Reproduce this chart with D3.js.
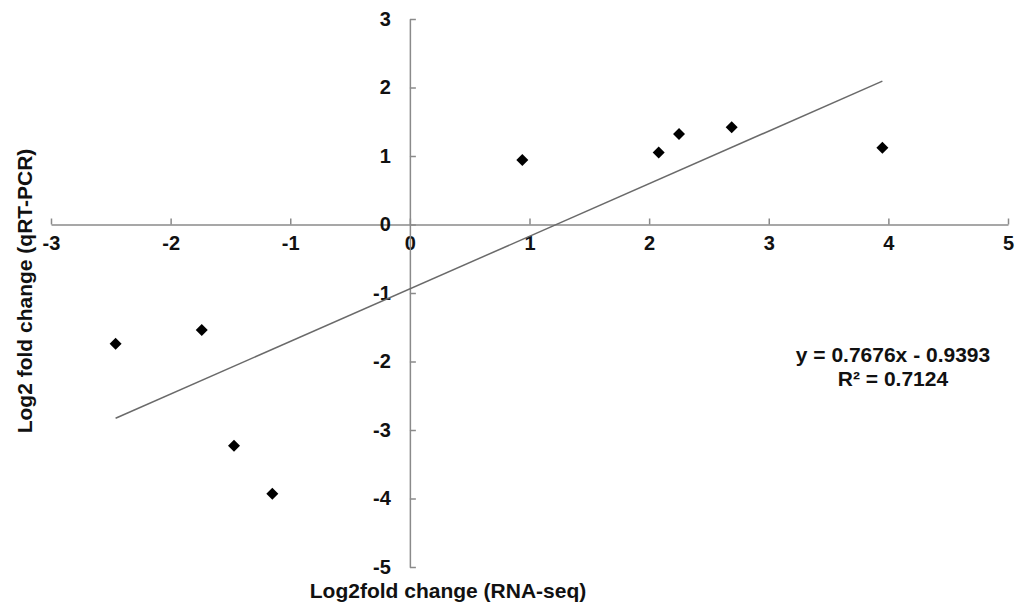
<!DOCTYPE html>
<html>
<head>
<meta charset="utf-8">
<script src="https://cdn.jsdelivr.net/npm/d3@7"></script>
<style>
  body { margin: 0; background: #fff; }
  text { font-family: "Liberation Sans", Arial, sans-serif; font-weight: bold; fill: #111; }
</style>
</head>
<body>
<svg id="chart" width="1019" height="612"></svg>
<script>
const rnaSeq = [-2.46, -1.74, -1.47, -1.15, 0.94, 2.08, 2.25, 2.69, 3.95];
const qPcr = [-1.74, -1.54, -3.23, -3.93, 0.94, 1.05, 1.32, 1.42, 1.12];
const xTicks = [-3, -2, -1, 0, 1, 2, 3, 4, 5];
const yTicks = [3, 2, 1, 0, -1, -2, -3, -4, -5];
const fitSlope = 0.7676;
const fitIntercept = -0.9393;
const fitLabels = ["y = 0.7676x - 0.9393", "R\u00b2 = 0.7124"];

const svg = d3.select("#chart");

const xScale = d3.scaleLinear().domain([-3, 5]).range([51, 1008]);
const yScale = d3.scaleLinear().domain([-5, 3]).range([567, 19]);

const axisColor = "#8a8a8a";
const plainFormat = (d) => String(d); // hyphen minus like the original

// x axis through y = 0, ticks pointing up
const xAxisG = svg
  .append("g")
  .attr("transform", `translate(0,${yScale(0)})`)
  .call(
    d3.axisBottom(xScale).tickValues(xTicks).tickFormat(plainFormat).tickSize(-6).tickSizeOuter(0)
  );

xAxisG.selectAll("text").attr("y", 25).attr("dy", null).style("font-size", "20px");

// y axis through x = 0, ticks pointing right
const yAxisG = svg
  .append("g")
  .attr("transform", `translate(${xScale(0)},0)`)
  .call(
    d3
      .axisLeft(yScale)
      .tickValues(yTicks)
      .tickFormat(plainFormat)
      .tickSize(-6)
      .tickSizeOuter(0)
      .tickPadding(19)
  );

yAxisG.selectAll("text").style("font-size", "20px");

[xAxisG, yAxisG].forEach((g) => {
  g.attr("font-family", null).attr("font-size", null);
  g.select(".domain").attr("stroke", axisColor).attr("stroke-width", 1.5);
  g.selectAll(".tick line").attr("stroke", axisColor).attr("stroke-width", 1.5);
  g.selectAll("text").attr("fill", "#111");
});

// trend line across the data range
const [xMin, xMax] = d3.extent(rnaSeq);
const fitLine = d3
  .line()
  .x((d) => xScale(d))
  .y((d) => yScale(fitSlope * d + fitIntercept));

svg
  .append("path")
  .datum([xMin, xMax])
  .attr("d", fitLine)
  .attr("fill", "none")
  .attr("stroke", "#6a6a6a")
  .attr("stroke-width", 1.5);

// points
const points = rnaSeq.map((x, i) => ({ x, y: qPcr[i] }));

svg
  .selectAll(".point")
  .data(points)
  .enter()
  .append("path")
  .classed("point", true)
  .attr("d", d3.symbol().type(d3.symbolSquare).size(72))
  .attr("transform", (d) => `translate(${xScale(d.x)},${yScale(d.y)}) rotate(45)`)
  .attr("fill", "#000");

// equation
svg
  .selectAll(".fit-label")
  .data(fitLabels)
  .enter()
  .append("text")
  .classed("fit-label", true)
  .attr("x", 893)
  .attr("y", (d, i) => 362 + i * 24)
  .attr("text-anchor", "middle")
  .style("font-size", "21px")
  .text((d) => d);

// axis titles
svg
  .append("text")
  .attr("x", 448)
  .attr("y", 598)
  .attr("text-anchor", "middle")
  .style("font-size", "21px")
  .text("Log2fold change (RNA-seq)");

svg
  .append("text")
  .attr("transform", "translate(32,291) rotate(-90)")
  .attr("text-anchor", "middle")
  .style("font-size", "21px")
  .text("Log2 fold change (qRT-PCR)");
</script>
</body>
</html>
